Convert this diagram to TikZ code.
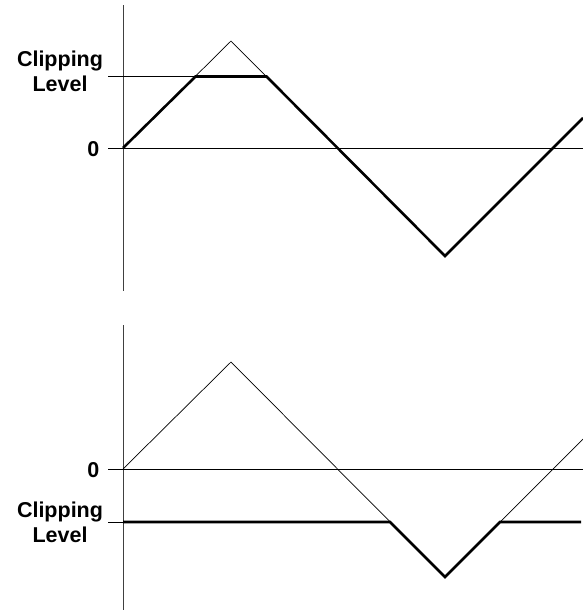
\documentclass[tikz,border=0pt]{standalone}
\usepackage{fontspec}
\setmainfont{Liberation Sans}
\tikzset{
  axisline/.style={draw=black!75, line width=0.8pt},
  thinline/.style={draw=black, line width=0.7pt},
  clipline/.style={draw=black, line width=2.6pt},
  levellabel/.style={font=\fontsize{21.5}{25}\selectfont\bfseries, align=center, inner sep=0pt, anchor=base}
}
\begin{document}
\begin{tikzpicture}[x=1pt, y=-1pt]
    \useasboundingbox (0,0) rectangle (583,611);

    %Top panel: clipping above zero
    \coordinate (t0) at (123,148);
    \coordinate (tpeak) at (231,41);
    \coordinate (tlow) at (445,256);
    \coordinate (tend) at (583,118);
    \coordinate (tclipa) at (195.5,76.5);
    \coordinate (tclipb) at (266.5,76.5);

    % Axis and reference lines
    \draw[axisline] (123,5) -- (123,291);
    \draw[thinline] (108,148) -- (583,148);
    \draw[thinline] (108,76.5) -- (tclipa);
    % Input signal
    \draw[thinline] (t0) -- (tpeak) -- (tlow) -- (tend);
    % Clipped signal
    \draw[clipline] (t0) -- (tclipa) -- (tclipb) -- (tlow) -- (tend);

    % Labels
    \node[levellabel] (ttop) at (60,91.7) {Clipping\\Level};
    \node[levellabel, anchor=base east] (tzero) at (99.5,156.5) {0};

    %Bottom panel: clipping below zero
    \coordinate (b0) at (123,469);
    \coordinate (bpeak) at (231,362);
    \coordinate (blow) at (445,577);
    \coordinate (bend) at (583,439);
    \coordinate (bclipa) at (390,522);
    \coordinate (bclipb) at (500,522);

    % Axis and reference lines
    \draw[axisline] (123,325) -- (123,610);
    \draw[thinline] (108,469) -- (583,469);
    \draw[thinline] (108,522) -- (123,522);
    % Input signal
    \draw[thinline] (b0) -- (bpeak) -- (blow) -- (bend);
    % Clipped signal
    \draw[clipline] (123,522) -- (bclipa) -- (blow) -- (bclipb) -- (581,522);

    % Labels
    \node[levellabel, anchor=base east] (bzero) at (99.5,477.5) {0};
    \node[levellabel] (bbottom) at (60,542) {Clipping\\Level};
\end{tikzpicture}
\end{document}
